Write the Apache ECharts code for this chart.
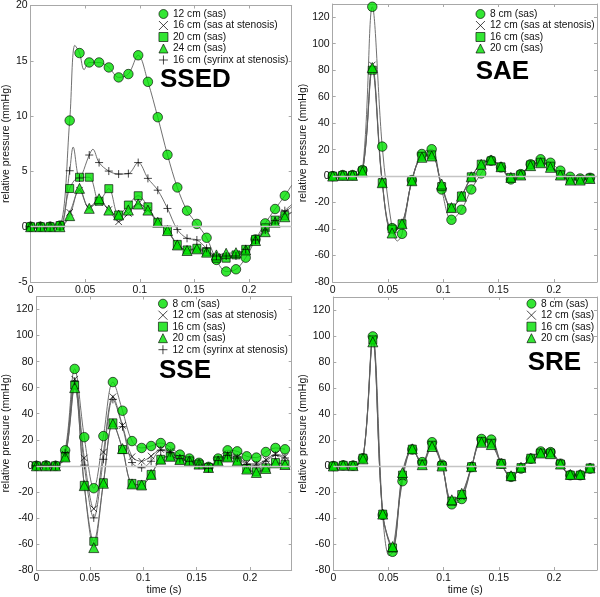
<!DOCTYPE html>
<html><head><meta charset="utf-8">
<script src="https://cdn.jsdelivr.net/npm/echarts@6/dist/echarts.min.js"></script>
<style>html,body{margin:0;padding:0;background:#fff}#c{width:600px;height:597px}</style>
</head><body><div id="c"></div><script>
// ---- data ----
const t = [0, 0.0090, 0.0179, 0.0269, 0.0358, 0.0448, 0.0537, 0.0627, 0.0716, 0.0806, 0.0895, 0.0985, 0.1074, 0.1164, 0.1253, 0.1343, 0.1432, 0.1522, 0.1611, 0.1701, 0.1790, 0.1880, 0.1969, 0.2059, 0.2148, 0.2238, 0.2327];

// SSED
const ssed_12cm = [0, 0, 0, 0.1, 9.6, 15.7, 14.85, 14.85, 14.4, 13.5, 13.8, 15.5, 13.1, 9.9, 6.5, 3.55, 1.45, 0.25, -1.0, -3.0, -4.05, -3.85, -2.8, -1.15, 0.3, 1.6, 2.8];
const ssed_16sten = [0, 0, 0, 0, 1.3, 3.3, 1.7, 2.2, 1.55, 0.45, 1.2, 2.1, 1.5, 0.4, -0.4, -1.6, -2.1, -2.1, -2.35, -2.7, -2.7, -2.5, -2.2, -1.3, -0.4, 0.45, 1.3];
const ssed_20cm = [0, 0, 0, 0.1, 3.45, 4.47, 4.47, 2.3, 3.44, 1.06, 1.96, 2.8, 1.8, 0.4, -0.3, -1.6, -2.1, -1.95, -2.25, -2.85, -2.85, -2.55, -2.05, -1.15, -0.1, 0.6, 1.0];
const ssed_24cm = [0, 0, 0, 0, 1.0, 3.47, 1.66, 2.53, 1.5, 1.06, 1.5, 2.05, 1.5, 0.4, -0.35, -1.65, -2.15, -2.0, -2.3, -2.55, -2.4, -2.35, -2.1, -1.25, -0.45, 0.4, 0.9];
const ssed_16syr = [0, 0, 0, 0, 5.06, 4.4, 6.48, 5.8, 5.03, 4.76, 4.8, 5.8, 4.37, 3.3, 1.65, -0.25, -1.05, -1.2, -1.95, -2.65, -2.65, -2.65, -2.05, -1.2, -0.3, 0.55, 1.45];
const ssed_12cm_curve = [[0.0405, 16.4], [0.049, 14.2], [0.239, 3.75]];
const ssed_16sten_curve = [[0.239, 1.8]];
const ssed_20cm_curve = [[0.239, 1.3]];
const ssed_24cm_curve = [[0.239, 1.3]];
const ssed_16syr_curve = [[0.039, 7.2], [0.057, 7.0], [0.239, 2.0]];

// SAE
const sae_8cm = [0, 0.8, 0.8, 4.6, 127.9, 22.3, -39.3, -43.6, -3, 16.7, 20.3, -10.1, -33, -25.4, -10.1, 2, 11.7, 6.6, -2.5, 1.5, 8.9, 12.7, 10.1, 4.1, -0.5, -1.8, -1.3];
const sae_12sten = [0, 0.5, 0.5, 4, 84, -4, -42, -36, -3.5, 15, 16, -7, -24, -15, -0.5, 9, 12, 7, -1, 1, 8, 10.5, 7.5, 1.5, -2.5, -2.5, -1.5];
const sae_16cm = [0, 0.5, 0.5, 4, 80, -5, -40, -36, -3.5, 15, 16, -8, -24, -15, -0.5, 9, 11.5, 7, -1, 1, 8.5, 10.5, 7.5, 1, -2.5, -2.5, -1.5];
const sae_20cm = [0, 0.5, 0.5, 3.3, 82, -5, -43, -36, -3.5, 14.2, 15.2, -6, -23.8, -15.2, -0.5, 8.9, 12.2, 7.1, -1, 0.8, 7.9, 10.1, 6.6, 0.8, -3, -3, -1.8];
const sae_8cm_curve = [[0.0585, -49]];

// SSE
const sse_8cm = [0, 0.3, 0, 11.9, 74.4, 22, -17.2, 22.8, 64.3, 42.3, 19, 13.7, 15.2, 17.5, 14.4, 8.6, 5.6, 2.3, -0.8, 5.6, 11.9, 11.1, 7.3, 6.3, 10.6, 13.7, 12.7];
const sse_12sten = [0, 0.3, 0, 9, 66.5, 6, -33, 10.5, 53, 31, 7, 3.5, 7.5, 12.5, 11, 6, 4, 1, -1.5, 4.5, 9, 7, 2, 1.5, 4.5, 9, 7];
const sse_16cm = [0, 0, 0, 7, 62, -15, -58, -13, 33, 12.5, -13.5, -14.5, -6.6, 5, 7.3, 4.8, 3.8, 1.3, -1.3, 3.8, 7, 4, -2, -4.5, -1.5, 2.5, 1.2];
const sse_20cm = [0, 0, 0, 6.8, 60, -15.2, -62.8, -13.4, 32.2, 13.2, -13.9, -14.7, -6.6, 5.1, 7.3, 4.8, 3.8, 1.3, -1.3, 3.8, 6.8, 3.8, -2.5, -5.1, -2, 2.3, 1];
const sse_12syr = [0, 0.3, 0, 10, 65, 0.5, -40, 5, 51, 30, 2.5, -1.5, 3.5, 12, 10, 5.5, 3.5, 0.5, -2, 4, 8, 6, 1, 0.5, 3.5, 8, 6];

// SRE
const sre_8cm = [0, 0.5, 0.3, 6, 99.7, -37.6, -66, -11.7, 12.7, 3, 18.3, 1, -29.5, -25.4, -0.8, 20.8, 20.3, 1.8, -8.4, -2, 5.6, 11.2, 10.7, 1.8, -7.1, -7.1, -2];
const sre_12cm = [0, 0.5, 0.3, 6, 98, -37, -64, -9, 13, 2, 17, 0.5, -28, -24, -0.5, 19.5, 18.5, 2, -8, -1.5, 6, 10.5, 10, 1.5, -7, -7, -1.8];
const sre_16cm = [0, 0.5, 0.3, 6, 97, -37, -63, -7, 13, 1.5, 16, 0.3, -27, -22, -0.5, 19, 17.5, 2, -8, -1.2, 6, 10, 10, 1.5, -7, -7, -1.5];
const sre_20cm = [0, 0.5, 0.3, 5.5, 95.5, -37, -62, -5, 13.2, 1, 15, 0, -26, -21, -0.5, 18.3, 16.5, 2, -7.5, -1, 6, 10, 9.5, 1.5, -6.5, -6.5, -1.5];
const sre_8cm_curve = [[0.0505, -69]];

const xTicks = [0, 0.05, 0.1, 0.15, 0.2];

// ---- styles ----
const FONT = 'Liberation Sans, Arial, Helvetica, sans-serif';
const AX = '#a8a8a8';
const TXT = '#111';
const GREEN = '#00e000';
const LINE = '#606060';
const GSTY = {color: GREEN, borderColor: '#000', borderWidth: 0.8};
const KSTY = {color: '#000', borderColor: '#000', borderWidth: 0.9};
const STY = {
  circle: {symbol: 'circle', size: 9.5, itemStyle: GSTY},
  cross: {symbol: 'path://M0,0L10,10M10,0L0,10', size: 6.5, itemStyle: KSTY},
  square: {symbol: 'rect', size: 8, itemStyle: GSTY},
  triangle: {symbol: 'triangle', size: 10, itemStyle: GSTY},
  plus: {symbol: 'path://M5,0L5,10M0,5L10,5', size: 8, itemStyle: KSTY}
};

const panels = [
  {grid: {left: 27.7, top: 5, width: 264, height: 277}, ymin: -5, ymax: 20, yint: 5, title: 'SSED', tpos: [160, 67], lpos: [158.5, 8.5], nameGap: 13, xName: '',
   series: [
     {name: '12 cm (sas)', sym: 'circle', vals: ssed_12cm, extra: ssed_12cm_curve},
     {name: '16 cm (sas at stenosis)', sym: 'cross', vals: ssed_16sten, extra: ssed_16sten_curve},
     {name: '20 cm (sas)', sym: 'square', vals: ssed_20cm, extra: ssed_20cm_curve},
     {name: '24 cm (sas)', sym: 'triangle', vals: ssed_24cm, extra: ssed_24cm_curve},
     {name: '16 cm (syrinx at stenosis)', sym: 'plus', vals: ssed_16syr, extra: ssed_16syr_curve}
   ]},
  {grid: {left: 332.7, top: 4, width: 265, height: 278}, ymin: -80, ymax: 130, yint: 20, title: 'SAE', tpos: [475.7, 59], lpos: [475.5, 8.5], nameGap: 20, xName: '',
   series: [
     {name: '8 cm (sas)', sym: 'circle', vals: sae_8cm, extra: sae_8cm_curve},
     {name: '12 cm (sas at stenosis)', sym: 'cross', vals: sae_12sten},
     {name: '16 cm (sas)', sym: 'square', vals: sae_16cm},
     {name: '20 cm (sas)', sym: 'triangle', vals: sae_20cm}
   ]},
  {grid: {left: 27.7, top: 296.5, width: 264, height: 277.2}, ymin: -80, ymax: 130, yint: 20, title: 'SSE', tpos: [159, 358], lpos: [158, 298.2], nameGap: 14, xName: 'time (s)',
   series: [
     {name: '8 cm (sas)', sym: 'circle', vals: sse_8cm},
     {name: '12 cm (sas at stenosis)', sym: 'cross', vals: sse_12sten},
     {name: '16 cm (sas)', sym: 'square', vals: sse_16cm},
     {name: '20 cm (sas)', sym: 'triangle', vals: sse_20cm},
     {name: '12 cm (syrinx at stenosis)', sym: 'plus', vals: sse_12syr}
   ]},
  {grid: {left: 333.3, top: 297, width: 264.4, height: 276.2}, ymin: -80, ymax: 130, yint: 20, title: 'SRE', tpos: [527.7, 349.7], lpos: [526.5, 298.2], nameGap: 19, xName: 'time (s)',
   series: [
     {name: '8 cm (sas)', sym: 'circle', vals: sre_8cm, extra: sre_8cm_curve},
     {name: '12 cm (sas)', sym: 'cross', vals: sre_12cm},
     {name: '16 cm (sas)', sym: 'square', vals: sre_16cm},
     {name: '20 cm (sas)', sym: 'triangle', vals: sre_20cm}
   ]}
];

function curve(vals, extra) {
  const pts = vals.map((v, i) => [t[i], v]);
  (extra || []).forEach(p => pts.push(p));
  pts.sort((a, b) => a[0] - b[0]);
  return pts;
}
function isTick(v, list) { return list.some(x => Math.abs(x - v) < 1e-9); }

const grids = [], xAxes = [], yAxes = [], series = [], legends = [], titles = [];
panels.forEach((p, k) => {
  grids.push(Object.assign({containLabel: false}, p.grid));
  const yTicks = [];
  for (let v = p.ymin; v <= p.ymax + 1e-9; v += p.yint) yTicks.push(v);
  const common = {gridIndex: k, splitLine: {show: false}, axisLine: {show: true, onZero: false, lineStyle: {color: AX, width: 1}},
    axisTick: {show: true, inside: true, length: 3, lineStyle: {color: AX}}};
  xAxes.push(Object.assign({}, common, {type: 'value', position: 'bottom', min: 0, max: 0.239, interval: 0.05,
    axisLabel: {margin: 3, fontSize: 10.5, color: TXT, fontFamily: FONT,
      formatter: v => isTick(v, xTicks) ? String(+v.toFixed(2)) : ''},
    name: p.xName, nameLocation: 'middle', nameGap: 15, nameTextStyle: {fontSize: 10.5, color: TXT, fontFamily: FONT}}));
  xAxes.push(Object.assign({}, common, {type: 'value', position: 'top', min: 0, max: 0.239, interval: 0.05, axisLabel: {show: false}}));
  yAxes.push(Object.assign({}, common, {type: 'value', position: 'left', min: p.ymin, max: p.ymax, interval: p.yint,
    axisLabel: {margin: 3, fontSize: 10.5, color: TXT, fontFamily: FONT,
      formatter: v => isTick(v, yTicks) && v < p.ymax - 1e-9 || v === 20 && p.ymax === 20 ? String(v) : ''},
    name: 'relative pressure (mmHg)', nameLocation: 'middle', nameGap: p.nameGap, nameRotate: 90,
    nameTextStyle: {fontSize: 10.5, color: TXT, fontFamily: FONT}}));
  yAxes.push(Object.assign({}, common, {type: 'value', position: 'right', min: p.ymin, max: p.ymax, interval: p.yint, axisLabel: {show: false}}));

  p.series.forEach((s, j) => {
    const line = {type: 'line', xAxisIndex: 2 * k, yAxisIndex: 2 * k, data: curve(s.vals, s.extra),
      showSymbol: false, symbol: 'none', smooth: 0.35, silent: true, z: 2,
      lineStyle: {color: LINE, width: 0.9}, emphasis: {disabled: true}, animation: false};
    if (j === 0) {
      line.markLine = {silent: true, symbol: ['none', 'none'], label: {show: false}, animation: false,
        lineStyle: {color: '#c4c4c4', width: 1.3, type: 'solid'}, data: [{yAxis: 0}], emphasis: {disabled: true}};
      line.z = 1;
    }
    series.push(line);
  });
  p.series.forEach(s => {
    const st = STY[s.sym];
    series.push({type: 'scatter', name: s.name, xAxisIndex: 2 * k, yAxisIndex: 2 * k,
      data: s.vals.map((v, i) => [t[i], v]), symbol: st.symbol, symbolSize: st.size,
      itemStyle: st.itemStyle, z: 3, silent: true, emphasis: {disabled: true}, animation: false});
  });
  legends.push({orient: 'vertical', left: p.lpos[0], top: p.lpos[1], itemWidth: 9, itemHeight: 9, itemGap: 0.5,
    selectedMode: false, padding: 0,
    textStyle: {fontSize: 10.2, color: TXT, fontFamily: FONT, lineHeight: 11},
    data: p.series.map(s => ({name: s.name, icon: STY[s.sym].symbol, itemStyle: STY[s.sym].itemStyle}))});
  titles.push({text: p.title, left: p.tpos[0], top: p.tpos[1], padding: 0,
    textStyle: {fontSize: 26, fontWeight: 'bold', color: '#000', fontFamily: FONT}});
});

const chart = echarts.init(document.getElementById('c'), null, {renderer: 'canvas'});
chart.setOption({
  animation: false,
  backgroundColor: '#fff',
  title: titles,
  legend: legends,
  grid: grids,
  xAxis: xAxes,
  yAxis: yAxes,
  series: series
});
</script></body></html>
